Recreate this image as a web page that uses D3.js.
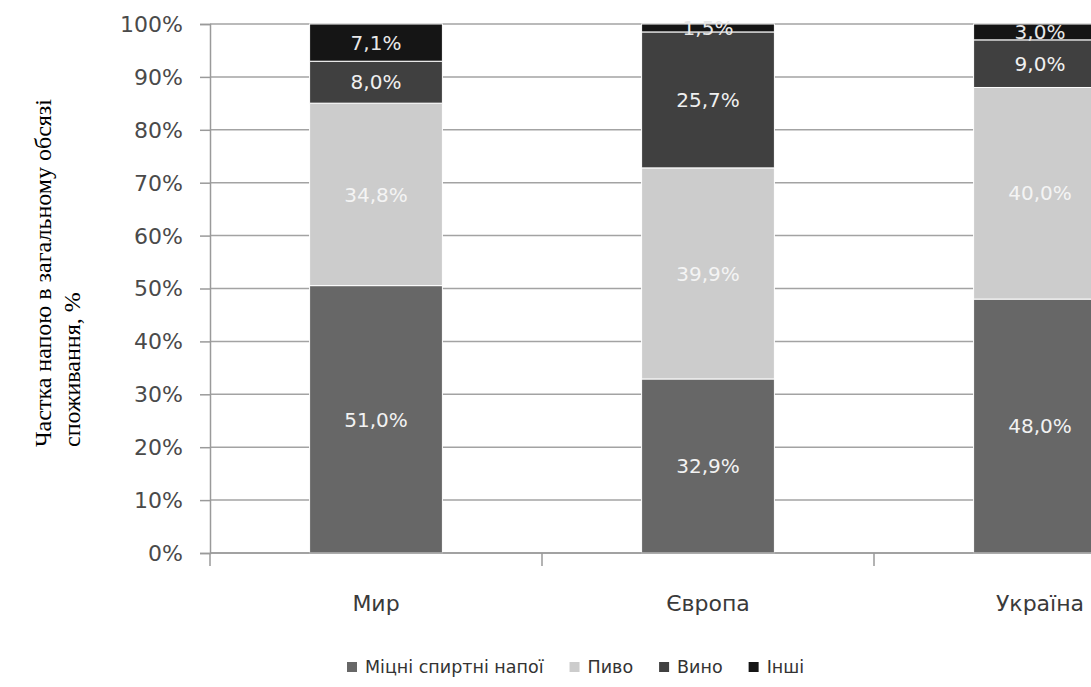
<!DOCTYPE html>
<html lang="uk">
<head>
<meta charset="utf-8">
<title>Структура споживання алкогольних напоїв</title>
<script src="https://cdn.jsdelivr.net/npm/d3@7"></script>
<style>
  html, body { margin: 0; padding: 0; background: #ffffff; }
  svg { display: block; }
</style>
</head>
<body>
<svg id="chart" width="1091" height="687"></svg>
<script>
// Regions and drink shares (% of total consumption)
const categories = ["Мир", "Європа", "Україна"];
const seriesNames = ["Міцні спиртні напої", "Пиво", "Вино", "Інші"];
const spirits = [51.0, 32.9, 48.0];
const beer = [34.8, 39.9, 40.0];
const wine = [8.0, 25.7, 9.0];
const other = [7.1, 1.5, 3.0];
const yTickValues = [0, 0.1, 0.2, 0.3, 0.4, 0.5, 0.6, 0.7, 0.8, 0.9, 1.0];
const axisTitleLines = ["Частка напою в загальному обсязі", "споживання, %"];

const seriesColors = ["#676767", "#cccccc", "#404040", "#151515"];
const labelColors = ["#f2f2f2", "#f4f4f4", "#f0f0f0", "#e8e8e8"];

const rows = categories.map((c, i) => ({
  category: c,
  [seriesNames[0]]: spirits[i],
  [seriesNames[1]]: beer[i],
  [seriesNames[2]]: wine[i],
  [seriesNames[3]]: other[i]
}));

const svg = d3.select("#chart");
const width = 1091, height = 687;

const plotLeft = 210, plotTop = 24, plotBottom = 553;
const step = 332;

const x = d3.scaleBand()
  .domain(categories)
  .range([plotLeft, plotLeft + step * categories.length])
  .paddingInner(0.6)
  .paddingOuter(0.3);

const y = d3.scaleLinear().domain([0, 1]).range([plotBottom, plotTop]);

const stack = d3.stack().keys(seriesNames).offset(d3.stackOffsetExpand);
const stacked = stack(rows);

const uk = d3.formatLocale({ decimal: ",", thousands: " ", grouping: [3], currency: ["", " грн"] });
const fmtValue = uk.format(".1f");
const fmtTick = d3.format(".0%");

const tickFont = "'DejaVu Sans', Verdana, sans-serif";

// Horizontal gridlines
svg.append("g")
  .selectAll("line")
  .data(yTickValues)
  .join("line")
  .attr("x1", plotLeft)
  .attr("x2", width)
  .attr("y1", d => y(d))
  .attr("y2", d => y(d))
  .attr("stroke", "#a3a3a3")
  .attr("stroke-width", 1.5);

// Y axis
const yAxis = svg.append("g")
  .attr("transform", `translate(${plotLeft},0)`)
  .call(d3.axisLeft(y).tickValues(yTickValues).tickFormat(fmtTick).tickSize(10).tickPadding(17));
yAxis.select(".domain").attr("stroke", "#9a9a9a").attr("stroke-width", 1.5);
yAxis.selectAll(".tick line").attr("stroke", "#9a9a9a").attr("stroke-width", 1.5);
yAxis.selectAll(".tick text")
  .attr("fill", "#4a4a4a")
  .style("font-family", tickFont)
  .style("font-size", "22px")
  .attr("dy", "0.34em");

// Stacked bars
const layers = svg.append("g")
  .selectAll("g")
  .data(stacked)
  .join("g")
  .attr("fill", (d, i) => seriesColors[i]);

layers.selectAll("rect")
  .data(d => d)
  .join("rect")
  .attr("x", d => x(d.data.category))
  .attr("width", x.bandwidth())
  .attr("y", d => y(d[1]))
  .attr("height", d => y(d[0]) - y(d[1]))
  .attr("stroke", "#ffffff")
  .attr("stroke-width", 1);

// X axis with ticks between categories
const xAxisG = svg.append("g").attr("transform", `translate(0,${plotBottom})`);
xAxisG.append("line")
  .attr("x1", plotLeft).attr("x2", width)
  .attr("y1", 0).attr("y2", 0)
  .attr("stroke", "#9a9a9a").attr("stroke-width", 1.5);
const boundaries = categories.map(c => x(c) - x.step() * x.paddingOuter());
xAxisG.selectAll("line.sep")
  .data(boundaries)
  .join("line")
  .attr("class", "sep")
  .attr("x1", d => d).attr("x2", d => d)
  .attr("y1", 0).attr("y2", 13)
  .attr("stroke", "#9a9a9a").attr("stroke-width", 1.5);
xAxisG.selectAll("text")
  .data(categories)
  .join("text")
  .attr("x", d => x(d) + x.bandwidth() / 2)
  .attr("y", 58)
  .attr("text-anchor", "middle")
  .attr("fill", "#3a3a3a")
  .style("font-family", tickFont)
  .style("font-size", "22px")
  .text(d => d);

// Value labels inside each segment
layers.each(function(layer, li) {
  d3.select(this).selectAll("text")
    .data(layer)
    .join("text")
    .attr("x", d => x(d.data.category) + x.bandwidth() / 2)
    .attr("y", d => (y(d[0]) + y(d[1])) / 2)
    .attr("dy", "0.36em")
    .attr("text-anchor", "middle")
    .attr("fill", labelColors[li])
    .style("font-family", tickFont)
    .style("font-size", "20px")
    .text(d => fmtValue(d.data[layer.key]) + "%");
});

// Vertical axis title
const title = svg.append("text")
  .attr("transform", "translate(0,447) rotate(-90)")
  .attr("fill", "#000")
  .style("font-family", "'Liberation Serif', 'Times New Roman', serif")
  .style("font-size", "24px")
  .attr("text-anchor", "start");
title.selectAll("tspan")
  .data(axisTitleLines)
  .join("tspan")
  .attr("x", 0)
  .attr("y", (d, i) => 51 + i * 29)
  .text(d => d);

// Legend
const legend = svg.append("g").attr("transform", "translate(347,667)");
let cursor = 0;
seriesNames.forEach((name, i) => {
  const item = legend.append("g").attr("transform", `translate(${cursor},0)`);
  item.append("rect")
    .attr("x", 0).attr("y", -5)
    .attr("width", 10).attr("height", 10)
    .attr("fill", seriesColors[i]);
  const t = item.append("text")
    .attr("x", 18)
    .attr("dy", "0.36em")
    .attr("fill", "#333")
    .style("font-family", tickFont)
    .style("font-size", "17.5px")
    .text(name);
  cursor += 18 + t.node().getComputedTextLength() + 26;
});
</script>
</body>
</html>
